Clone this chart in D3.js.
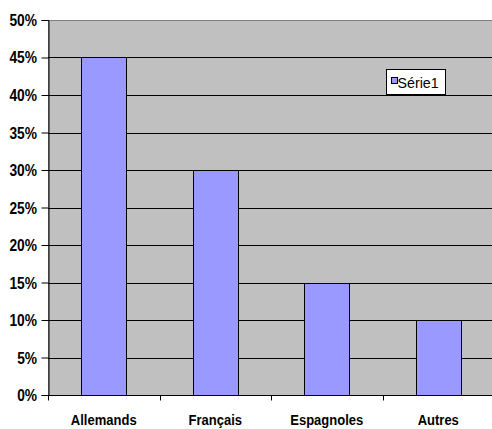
<!DOCTYPE html>
<html>
<head>
<meta charset="utf-8">
<script src="https://cdn.jsdelivr.net/npm/d3@7"></script>
<style>
  html, body { margin: 0; padding: 0; background: #fff; }
  svg { display: block; }
  text { font-family: "Liberation Sans", Arial, sans-serif; }
</style>
</head>
<body>
<div id="chart"></div>
<script>
(function () {
  "use strict";

  var categories = ["Allemands", "Français", "Espagnoles", "Autres"];
  var values = [0.45, 0.30, 0.15, 0.10];
  var yTicks = [0, 0.05, 0.10, 0.15, 0.20, 0.25, 0.30, 0.35, 0.40, 0.45, 0.50];
  var seriesName = "Série1";

  var W = 492, H = 429;
  var left = 48, right = 494, top = 20, bottom = 395;
  var squeeze = 0.86; // labels look condensed in the original

  var svg = d3.select("#chart").append("svg")
    .attr("width", W)
    .attr("height", H);

  var x = d3.scaleBand()
    .domain(categories)
    .range([left, right])
    .paddingInner(0)
    .paddingOuter(0);

  var y = d3.scaleLinear()
    .domain([0, 0.5])
    .range([bottom, top]);

  // plot area
  svg.append("rect")
    .attr("x", left + 0.5)
    .attr("y", top + 0.5)
    .attr("width", right - left)
    .attr("height", bottom - top)
    .attr("fill", "#c0c0c0")
    .attr("stroke", "#808080")
    .attr("stroke-width", 1);

  // gridlines
  svg.append("g")
    .selectAll("line")
    .data(yTicks.filter(function (d) { return d > 0 && d < 0.5; }))
    .join("line")
    .attr("x1", left)
    .attr("x2", right)
    .attr("y1", function (d) { return Math.round(y(d)) + 0.5; })
    .attr("y2", function (d) { return Math.round(y(d)) + 0.5; })
    .attr("stroke", "#000")
    .attr("stroke-width", 1);

  // bars
  var bw = x.bandwidth() * 0.4;
  svg.append("g")
    .selectAll("rect")
    .data(values)
    .join("rect")
    .attr("x", function (d, i) { return Math.round(x(categories[i]) + (x.bandwidth() - bw) / 2) + 0.5; })
    .attr("y", function (d) { return Math.round(y(d)) + 0.5; })
    .attr("width", Math.round(bw))
    .attr("height", function (d) { return Math.round(y(0)) - Math.round(y(d)); })
    .attr("fill", "#9999ff")
    .attr("stroke", "#000")
    .attr("stroke-width", 1);

  // y axis
  var yAxis = d3.axisLeft(y)
    .tickValues(yTicks)
    .tickSize(7)
    .tickFormat("");

  var gy = svg.append("g")
    .attr("transform", "translate(" + (left + 0.5) + ",0)")
    .call(yAxis);
  gy.select(".domain").attr("stroke", "#000");
  gy.selectAll(".tick line").attr("stroke", "#000");

  svg.append("g")
    .selectAll("g")
    .data(yTicks)
    .join("g")
    .attr("transform", function (d) {
      return "translate(37," + (Math.round(y(d)) + 6) + ") scale(" + squeeze + ",1)";
    })
    .append("text")
    .attr("text-anchor", "end")
    .attr("font-size", 16)
    .attr("font-weight", "bold")
    .attr("fill", "#000")
    .text(d3.format(".0%"));

  // x axis
  var gx = svg.append("g")
    .attr("transform", "translate(0," + (bottom + 0.5) + ")");
  gx.append("line")
    .attr("x1", left)
    .attr("x2", right)
    .attr("stroke", "#000");
  gx.selectAll("line.tk")
    .data(categories)
    .join("line")
    .attr("class", "tk")
    .attr("x1", function (d) { return Math.round(x(d)) + 0.5; })
    .attr("x2", function (d) { return Math.round(x(d)) + 0.5; })
    .attr("y1", 0)
    .attr("y2", 5)
    .attr("stroke", "#000");
  gx.selectAll("g.lbl")
    .data(categories)
    .join("g")
    .attr("class", "lbl")
    .attr("transform", function (d) {
      return "translate(" + (x(d) + x.bandwidth() / 2) + ",29.5) scale(0.84,1)";
    })
    .append("text")
    .attr("text-anchor", "middle")
    .attr("font-size", 15.5)
    .attr("font-weight", "bold")
    .attr("fill", "#000")
    .text(function (d) { return d; });

  // legend
  var lg = svg.append("g").attr("transform", "translate(386.5,69.5)");
  lg.append("rect")
    .attr("width", 59)
    .attr("height", 25)
    .attr("fill", "#fff")
    .attr("stroke", "#000");
  lg.append("rect")
    .attr("x", 5)
    .attr("y", 8)
    .attr("width", 6)
    .attr("height", 6)
    .attr("fill", "#9999ff")
    .attr("stroke", "#000");
  lg.append("g")
    .attr("transform", "translate(11,18.5) scale(0.95,1)")
    .append("text")
    .attr("font-size", 15)
    .attr("fill", "#000")
    .text(seriesName);
})();
</script>
</body>
</html>
